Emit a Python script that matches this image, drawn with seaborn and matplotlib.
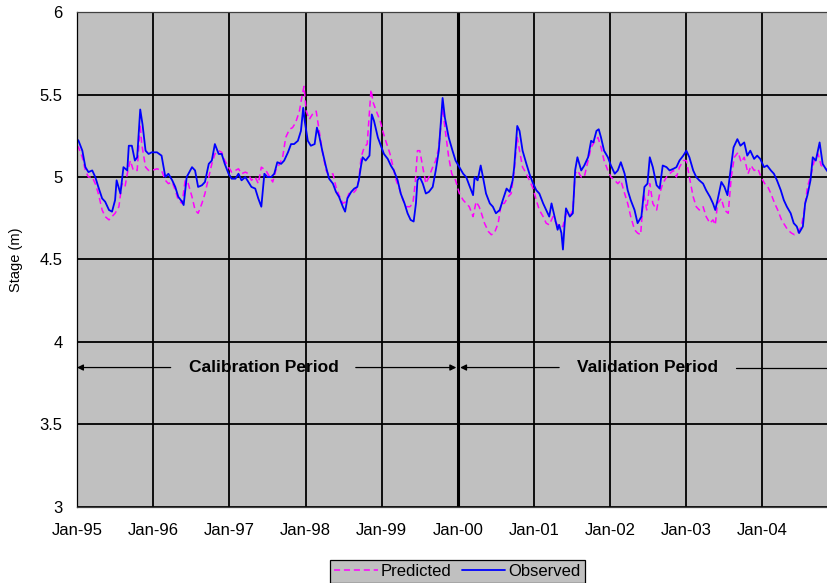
import numpy as np
import pandas as pd
import matplotlib
matplotlib.use("Agg")
import matplotlib.pyplot as plt
import seaborn as sns

# Valeurs (annee decimale, niveau en m)
obs_year = [
    1995.00, 1995.02, 1995.07, 1995.11, 1995.15, 1995.20, 1995.24, 1995.28, 1995.33, 1995.37,
    1995.42, 1995.46, 1995.50, 1995.52, 1995.57, 1995.61, 1995.66, 1995.68, 1995.72, 1995.76,
    1995.79, 1995.83, 1995.86, 1995.90, 1995.94, 1995.98,
    1996.05, 1996.11, 1996.16, 1996.20, 1996.25, 1996.29, 1996.33, 1996.38, 1996.40, 1996.44,
    1996.51, 1996.55, 1996.59, 1996.64, 1996.68, 1996.73, 1996.77, 1996.81, 1996.86, 1996.90,
    1996.94, 1996.99,
    1997.03, 1997.08, 1997.12, 1997.16, 1997.21, 1997.25, 1997.29, 1997.34, 1997.38, 1997.42,
    1997.46, 1997.50, 1997.55, 1997.59, 1997.63, 1997.68, 1997.72, 1997.77, 1997.81, 1997.85,
    1997.90, 1997.94, 1997.97, 1997.99,
    1998.03, 1998.07, 1998.12, 1998.15, 1998.18, 1998.22, 1998.27, 1998.31, 1998.36, 1998.40,
    1998.44, 1998.49, 1998.52, 1998.55, 1998.60, 1998.64, 1998.68, 1998.70, 1998.73, 1998.75,
    1998.79, 1998.84, 1998.87, 1998.90, 1998.95, 1998.99,
    1999.03, 1999.08, 1999.12, 1999.16, 1999.21, 1999.25, 1999.30, 1999.34, 1999.38, 1999.42,
    1999.45, 1999.47, 1999.50, 1999.54, 1999.58, 1999.62, 1999.67, 1999.71, 1999.75, 1999.80,
    1999.83, 1999.88, 1999.93, 1999.97,
    2000.02, 2000.07, 2000.11, 2000.15, 2000.20, 2000.22, 2000.26, 2000.30, 2000.33, 2000.37,
    2000.42, 2000.46, 2000.50, 2000.55, 2000.59, 2000.64, 2000.68, 2000.72, 2000.74, 2000.78,
    2000.81, 2000.85, 2000.90, 2000.94, 2000.98,
    2001.03, 2001.07, 2001.12, 2001.16, 2001.20, 2001.23, 2001.27, 2001.31, 2001.33, 2001.36,
    2001.38, 2001.40, 2001.42, 2001.47, 2001.51, 2001.54, 2001.57, 2001.62, 2001.66, 2001.71,
    2001.75, 2001.78, 2001.82, 2001.85, 2001.88, 2001.92, 2001.97,
    2002.01, 2002.06, 2002.10, 2002.14, 2002.19, 2002.23, 2002.27, 2002.32, 2002.36, 2002.41,
    2002.45, 2002.49, 2002.52, 2002.56, 2002.61, 2002.65, 2002.69, 2002.74, 2002.78, 2002.83,
    2002.87, 2002.91, 2002.96,
    2003.00, 2003.04, 2003.09, 2003.13, 2003.17, 2003.22, 2003.26, 2003.31, 2003.35, 2003.38,
    2003.41, 2003.46, 2003.50, 2003.54, 2003.58, 2003.62, 2003.67, 2003.71, 2003.76, 2003.80,
    2003.84, 2003.89, 2003.93, 2003.97,
    2004.02, 2004.06, 2004.11, 2004.15, 2004.19, 2004.24, 2004.28, 2004.32, 2004.37, 2004.41,
    2004.45, 2004.48, 2004.53, 2004.56, 2004.59, 2004.63, 2004.66, 2004.70, 2004.75, 2004.79,
    2004.83, 2004.86,
]
obs_stage = [
    5.23, 5.22, 5.16, 5.06, 5.03, 5.04, 5.00, 4.94, 4.87, 4.85,
    4.80, 4.79, 4.86, 4.98, 4.90, 5.06, 5.04, 5.19, 5.19, 5.10,
    5.12, 5.41, 5.32, 5.16, 5.14, 5.15,
    5.15, 5.13, 5.00, 5.02, 4.98, 4.94, 4.88, 4.85, 4.83, 5.00,
    5.06, 5.04, 4.94, 4.95, 4.97, 5.08, 5.10, 5.20, 5.14, 5.14,
    5.08, 5.02,
    4.99, 4.99, 5.02, 4.98, 5.00, 4.97, 4.94, 4.93, 4.87, 4.82,
    5.02, 5.00, 5.00, 5.02, 5.09, 5.08, 5.10, 5.15, 5.20, 5.20,
    5.22, 5.28, 5.42, 5.34,
    5.22, 5.19, 5.20, 5.30, 5.25, 5.16, 5.06, 4.99, 4.96, 4.91,
    4.88, 4.82, 4.79, 4.87, 4.91, 4.93, 4.94, 4.98, 5.07, 5.12,
    5.10, 5.13, 5.38, 5.34, 5.24, 5.19,
    5.14, 5.11, 5.07, 5.04, 4.98, 4.90, 4.84, 4.78, 4.74, 4.73,
    4.84, 4.98, 5.00, 4.96, 4.90, 4.91, 4.94, 5.04, 5.16, 5.48,
    5.36, 5.24, 5.16, 5.10,
    5.06, 5.02, 5.00, 4.95, 4.89, 5.00, 4.98, 5.07, 5.00, 4.90,
    4.84, 4.82, 4.78, 4.80, 4.86, 4.93, 4.91, 4.98, 5.06, 5.31,
    5.28, 5.16, 5.08, 5.02, 4.97,
    4.92, 4.90, 4.84, 4.80, 4.76, 4.84, 4.76, 4.68, 4.71, 4.66,
    4.56, 4.70, 4.81, 4.76, 4.78, 5.04, 5.12, 5.04, 5.07, 5.12,
    5.22, 5.21, 5.28, 5.29, 5.24, 5.16, 5.12,
    5.07, 5.02, 5.04, 5.09, 5.02, 4.92, 4.86, 4.80, 4.72, 4.76,
    4.94, 4.96, 5.12, 5.06, 4.95, 4.93, 5.07, 5.06, 5.04, 5.05,
    5.06, 5.10, 5.13,
    5.16, 5.12, 5.04, 5.00, 4.98, 4.96, 4.92, 4.88, 4.84, 4.80,
    4.86, 4.97, 4.94, 4.89, 5.04, 5.18, 5.23, 5.19, 5.21, 5.13,
    5.16, 5.11, 5.13, 5.11,
    5.06, 5.07, 5.04, 5.02, 4.98, 4.92, 4.86, 4.82, 4.78, 4.72,
    4.70, 4.66, 4.70, 4.84, 4.89, 4.98, 5.12, 5.10, 5.21, 5.08,
    5.05, 5.03,
]

pred_year = [
    1995.00, 1995.02, 1995.07, 1995.11, 1995.15, 1995.20, 1995.24, 1995.28, 1995.33, 1995.37,
    1995.42, 1995.46, 1995.50, 1995.55, 1995.59, 1995.63, 1995.66, 1995.70, 1995.74, 1995.79,
    1995.83, 1995.85, 1995.90, 1995.94, 1995.98,
    1996.05, 1996.11, 1996.16, 1996.20, 1996.25, 1996.29, 1996.33, 1996.38, 1996.42, 1996.46,
    1996.51, 1996.55, 1996.59, 1996.64, 1996.68, 1996.73, 1996.77, 1996.81, 1996.86, 1996.90,
    1996.94, 1996.99,
    1997.03, 1997.08, 1997.12, 1997.16, 1997.21, 1997.25, 1997.29, 1997.34, 1997.38, 1997.42,
    1997.48, 1997.53, 1997.57, 1997.61, 1997.66, 1997.70, 1997.74, 1997.79, 1997.83, 1997.87,
    1997.92, 1997.95, 1997.98,
    1998.01, 1998.05, 1998.09, 1998.14, 1998.18, 1998.22, 1998.27, 1998.31, 1998.36, 1998.40,
    1998.44, 1998.49, 1998.53, 1998.57, 1998.62, 1998.66, 1998.70, 1998.73, 1998.77, 1998.81,
    1998.86, 1998.89, 1998.93, 1998.98,
    1999.02, 1999.06, 1999.11, 1999.15, 1999.19, 1999.24, 1999.28, 1999.33, 1999.37, 1999.41,
    1999.44, 1999.47, 1999.50, 1999.54, 1999.58, 1999.62, 1999.67, 1999.71, 1999.75, 1999.80,
    1999.83, 1999.88, 1999.92, 1999.97,
    2000.02, 2000.07, 2000.11, 2000.15, 2000.20, 2000.24, 2000.28, 2000.31, 2000.35, 2000.40,
    2000.44, 2000.48, 2000.53, 2000.57, 2000.61, 2000.66, 2000.70, 2000.74, 2000.78, 2000.81,
    2000.85, 2000.90, 2000.94, 2000.98,
    2001.03, 2001.07, 2001.12, 2001.16, 2001.20, 2001.25, 2001.29, 2001.33, 2001.38, 2001.42,
    2001.47, 2001.51, 2001.54, 2001.57, 2001.62, 2001.66, 2001.71, 2001.75, 2001.79, 2001.84,
    2001.88, 2001.92, 2001.97,
    2002.01, 2002.06, 2002.10, 2002.14, 2002.19, 2002.23, 2002.27, 2002.32, 2002.36, 2002.40,
    2002.44, 2002.48, 2002.52, 2002.56, 2002.61, 2002.65, 2002.69, 2002.74, 2002.78, 2002.83,
    2002.87, 2002.91, 2002.96,
    2003.00, 2003.04, 2003.09, 2003.13, 2003.17, 2003.22, 2003.26, 2003.31, 2003.35, 2003.38,
    2003.41, 2003.46, 2003.50, 2003.55, 2003.59, 2003.63, 2003.68, 2003.72, 2003.76, 2003.81,
    2003.85, 2003.89, 2003.94, 2003.98,
    2004.03, 2004.07, 2004.11, 2004.16, 2004.20, 2004.25, 2004.29, 2004.33, 2004.38, 2004.42,
    2004.46, 2004.51, 2004.55, 2004.59, 2004.64, 2004.68, 2004.73, 2004.77, 2004.81, 2004.86,
]
pred_stage = [
    5.19, 5.18, 5.12, 5.04, 5.00, 5.00, 4.96, 4.90, 4.80, 4.76,
    4.74, 4.76, 4.78, 4.82, 4.96, 4.94, 5.02, 5.10, 5.04, 5.04,
    5.32, 5.20, 5.06, 5.04, 5.04,
    5.05, 5.04, 4.98, 4.96, 4.97, 4.92, 4.86, 4.84, 4.98, 4.96,
    4.88, 4.80, 4.78, 4.84, 4.90, 5.00, 5.08, 5.14, 5.16, 5.15,
    5.10, 5.06,
    5.03, 5.04, 5.05, 5.02, 5.03, 5.02, 4.98, 5.00, 4.96, 5.06,
    5.04, 5.00, 4.97, 5.04, 5.08, 5.12, 5.24, 5.29, 5.30, 5.33,
    5.40, 5.48, 5.55,
    5.40, 5.35, 5.38, 5.40, 5.28, 5.16, 5.04, 5.01, 5.02, 4.94,
    4.89, 4.84, 4.85, 4.90, 4.90, 4.92, 4.98, 5.12, 5.18, 5.20,
    5.53, 5.45, 5.40, 5.34,
    5.27, 5.21, 5.14, 5.06, 4.98, 4.92, 4.86, 4.82, 4.82, 4.84,
    4.96, 5.16, 5.16, 5.06, 4.96, 5.00, 5.06, 5.10, 5.18, 5.42,
    5.30, 5.12, 5.02, 4.98,
    4.90, 4.86, 4.84, 4.82, 4.76, 4.85, 4.82, 4.78, 4.72, 4.67,
    4.65, 4.66, 4.72, 4.84, 4.84, 4.88, 4.90, 5.04, 5.24, 5.16,
    5.06, 5.02, 4.98, 4.94,
    4.86, 4.80, 4.76, 4.72, 4.71, 4.76, 4.72, 4.70, 4.70, 4.78,
    4.76, 4.80, 5.02, 5.04, 5.00, 5.00, 5.10, 5.18, 5.21, 5.24,
    5.18, 5.10, 5.04,
    5.00, 4.98, 4.96, 4.98, 4.90, 4.84, 4.76, 4.68, 4.66, 4.65,
    4.90, 4.80, 4.96, 4.84, 4.80, 4.90, 4.96, 5.00, 5.02, 5.04,
    5.00, 5.06, 5.10,
    5.10, 5.00, 4.88, 4.82, 4.80, 4.82, 4.76, 4.72, 4.74, 4.71,
    4.84, 4.87, 4.80, 4.78, 5.00, 5.12, 5.15, 5.09, 5.12, 5.02,
    5.07, 5.04, 5.05, 5.00,
    4.96, 4.94, 4.90, 4.84, 4.80, 4.74, 4.71, 4.68, 4.66, 4.65,
    4.66, 4.70, 4.80, 4.94, 5.02, 5.10, 5.14, 5.07, 5.06, 5.04,
]

annee_ticks = [1995, 1996, 1997, 1998, 1999, 2000, 2001, 2002, 2003, 2004]
labels_ticks = ["Jan-95", "Jan-96", "Jan-97", "Jan-98", "Jan-99",
                "Jan-00", "Jan-01", "Jan-02", "Jan-03", "Jan-04"]
stage_ticks = [3, 3.5, 4, 4.5, 5, 5.5, 6]

GRIS = "#C0C0C0"

sns.set_theme(style="whitegrid", rc={
    "axes.facecolor": GRIS,
    "grid.color": "black",
    "grid.linewidth": 1.3,
    "axes.edgecolor": "#404040",
    "axes.linewidth": 0.9,
    "text.color": "black",
    "axes.labelcolor": "black",
})
plt.rcParams["font.family"] = ["Liberation Sans", "DejaVu Sans"]

fig = plt.figure(figsize=(8.28, 5.83), dpi=100)
ax = fig.add_axes([0.093, 0.131, 0.907, 0.848])

df_pred = pd.DataFrame({"annee": pred_year, "stage": pred_stage})
df_obs = pd.DataFrame({"annee": obs_year, "stage": obs_stage})

sns.lineplot(data=df_pred, x="annee", y="stage", ax=ax, color="#FF00FF",
             linewidth=1.1, linestyle=(0, (4, 2.5)), label="Predicted")
sns.lineplot(data=df_obs, x="annee", y="stage", ax=ax, color="#0000FF",
             linewidth=1.3, label="Observed")

# Separation calibration / validation
ax.axvline(2000.0, color="black", linewidth=2.2, zorder=1.5)

ax.set_xlim(1995.0, 2004.86)
ax.set_ylim(3, 6)
ax.set_xticks(annee_ticks)
ax.set_xticklabels(labels_ticks)
ax.set_yticks(stage_ticks)
ax.set_yticklabels([f"{v:g}" for v in stage_ticks])
ax.tick_params(axis="both", direction="out", length=4.5, width=0.8,
               color="#606060", labelsize=12, pad=6, labelcolor="black")
ax.tick_params(axis="x", pad=7)
ax.grid(True, axis="both")
ax.set_xlabel("")
ax.set_ylabel("Stage (m)", fontsize=10.5, labelpad=12, color="black")
ax.spines["left"].set_color("black")
ax.spines["right"].set_visible(False)

# Fleches des periodes
y_fl = 3.844
fleche = dict(arrowstyle="-|>", color="black", linewidth=0.9,
              mutation_scale=9, shrinkA=0, shrinkB=0)
for debut, fin in [(1996.23, 1995.0), (1998.66, 1999.98), (2001.33, 2000.03)]:
    ax.annotate("", xy=(fin, y_fl), xytext=(debut, y_fl), arrowprops=fleche,
                annotation_clip=False)
ax.plot([2003.65, 2004.86], [y_fl, y_fl], color="black", linewidth=0.9)
ax.text(1997.45, y_fl, "Calibration Period", ha="center", va="center",
        fontsize=12.5, fontweight="bold", color="black")
ax.text(2002.49, y_fl, "Validation Period", ha="center", va="center",
        fontsize=12.5, fontweight="bold", color="black")

ax.legend(loc="upper center", bbox_to_anchor=(0.5525, 0.04),
          bbox_transform=fig.transFigure, ncol=2, frameon=True,
          facecolor=GRIS, edgecolor="black", fancybox=False, framealpha=1,
          fontsize=12, handlelength=2.6, handletextpad=0.2,
          columnspacing=0.6, borderpad=0.25, borderaxespad=0)
ax.get_legend().get_frame().set_linewidth(0.9)

fig.savefig("out.png", dpi=100)
